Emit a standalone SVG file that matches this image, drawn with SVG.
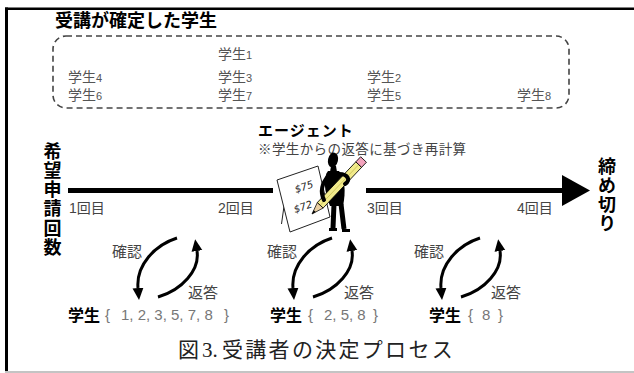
<svg xmlns="http://www.w3.org/2000/svg" width="634" height="373" viewBox="0 0 634 373">
  <style>
    .jp { font-family: "Liberation Sans", "Noto Sans CJK JP", sans-serif; }
    .bold { font-family: "Noto Sans CJK JP", sans-serif; font-weight: 700; fill: #000; }
    .vert { writing-mode: vertical-rl; text-orientation: upright; font-size: 18px; letter-spacing: 1.2px; }
    .stu { font-size: 14px; fill: #555; }
    .sub { font-size: 11px; }
    .round { font-size: 14px; fill: #444; }
    .lbl { font-size: 15px; fill: #444; }
    .num { font-family: "Liberation Sans", sans-serif; font-size: 15px; fill: #777; }
    .caption { font-family: "Liberation Serif", "Noto Sans CJK JP", serif; font-size: 21px; fill: #222; }
    .arc { fill: none; stroke: #000; stroke-width: 3; marker-end: url(#head); }
    .axis { stroke: #000; stroke-width: 5; }
  </style>
  <defs>
    <marker id="head" viewBox="0 0 12 12" refX="0" refY="6" markerWidth="12" markerHeight="12" markerUnits="userSpaceOnUse" orient="auto">
      <path d="M0,0.5 L12,6 L0,11.5 Z" fill="#000"/>
    </marker>
    <g id="loop">
      <path class="arc" d="M177,238 C155,245 136,265 138,288"/>
      <path class="arc" d="M158,297 C182,290 200,270 197,251"/>
    </g>
  </defs>

  <rect width="634" height="373" fill="#fff"/>

  <!-- frame -->
  <g id="frame">
    <line x1="5" y1="8.8" x2="634" y2="8.8" stroke="#000" stroke-width="2.6"/>
    <line x1="6.5" y1="7.5" x2="6.5" y2="373" stroke="#000" stroke-width="3"/>
    <line x1="5" y1="372" x2="634" y2="372" stroke="#c4c4c4" stroke-width="2"/>
  </g>

  <!-- confirmed students -->
  <g id="confirmed">
    <text class="bold" x="55" y="26.5" font-size="18">受講が確定した学生</text>
    <rect x="53" y="36" width="516" height="72" rx="13" fill="none" stroke="#444" stroke-width="1.6" stroke-dasharray="6 4"/>
    <g class="jp stu">
      <text x="218" y="58.5">学生<tspan class="sub">1</tspan></text>
      <text x="68" y="81.5">学生<tspan class="sub">4</tspan></text>
      <text x="218" y="81.5">学生<tspan class="sub">3</tspan></text>
      <text x="367" y="81.5">学生<tspan class="sub">2</tspan></text>
      <text x="68" y="99.5">学生<tspan class="sub">6</tspan></text>
      <text x="218" y="99.5">学生<tspan class="sub">7</tspan></text>
      <text x="367" y="99.5">学生<tspan class="sub">5</tspan></text>
      <text x="517" y="99.5">学生<tspan class="sub">8</tspan></text>
    </g>
  </g>

  <!-- vertical axis labels -->
  <g id="axis-start">
    <text class="bold vert" x="52.5" y="142">希望申請回数</text>
  </g>
  <g id="axis-end">
    <text class="bold vert" x="607" y="157">締め切り</text>
  </g>

  <!-- agent -->
  <g id="agent">
    <text class="bold" x="258" y="136" font-size="15" letter-spacing="1">エージェント</text>
    <text class="jp" x="258" y="153.5" font-size="13.5" letter-spacing="0.4" fill="#444">※学生からの返答に基づき再計算</text>
    <!-- easel and sheet -->
    <line x1="285" y1="199" x2="281.5" y2="224" stroke="#222" stroke-width="1"/>
    <line x1="286.5" y1="203" x2="288.5" y2="224" stroke="#222" stroke-width="1"/>
    <polygon points="277,180 318,166 330,217 290,232" fill="#fff" stroke="#222" stroke-width="1"/>
    <text x="296" y="193" font-family="DejaVu Sans" font-size="10" font-style="italic" fill="#222" transform="rotate(-18 296 193)">$75</text>
    <text x="295" y="213" font-family="DejaVu Sans" font-size="10" font-style="italic" fill="#222" transform="rotate(-18 295 213)">$72</text>
    <!-- figure -->
    <ellipse cx="333" cy="160" rx="5" ry="7.5" fill="#000" transform="rotate(12 333 160)"/>
    <path d="M331,166 L336,166 L337,172 L330,172 Z" fill="#000"/>
    <path d="M328,171 C323,177 324,191 330,206 L343,206 C346,192 345,178 339,171 Z" fill="#000"/>
    <path d="M334,204 L333,228 M341,204 L344,229" stroke="#000" stroke-width="5" fill="none"/>
    <path d="M329,229.5 L337,229.5 M342,230.5 L350,230.5" stroke="#000" stroke-width="3" fill="none"/>
    <!-- pencil -->
    <g transform="translate(312,214) rotate(-46.6)">
      <polygon points="0,0 12,-4 12,4" fill="#e9cfa3" stroke="#000" stroke-width="0.7"/>
      <polygon points="0,0 4,-1.4 4,1.4" fill="#000"/>
      <rect x="12" y="-4" width="56" height="8" fill="#f1ea8a" stroke="#000" stroke-width="0.8"/>
      <line x1="12" y1="0" x2="68" y2="0" stroke="#c9bf55" stroke-width="0.8"/>
      <rect x="68" y="-4" width="7" height="8" fill="#f3a3bd" stroke="#000" stroke-width="0.8"/>
    </g>
    <path d="M329,175 C322,183 320,192 324,200" stroke="#000" stroke-width="4" fill="none" stroke-linecap="round"/>
    <path d="M339,174 C348,174 351,180 345,184" stroke="#000" stroke-width="4" fill="none" stroke-linecap="round"/>
  </g>

  <!-- timeline and exchange arrows -->
  <g id="connectors">
    <line class="axis" x1="68" y1="190.5" x2="273" y2="190.5"/>
    <line class="axis" x1="366" y1="190.5" x2="563" y2="190.5"/>
    <polygon points="562,175 590,190.5 562,206" fill="#000"/>
    <use href="#loop"/>
    <use href="#loop" transform="translate(155,0)"/>
    <use href="#loop" transform="translate(303,0)"/>
  </g>

  <g id="rounds" class="jp round">
    <text x="69" y="212.5">1回目</text>
    <text x="218" y="212.5">2回目</text>
    <text x="367" y="212.5">3回目</text>
    <text x="517" y="212.5">4回目</text>
  </g>

  <g id="exchange-1">
    <text class="jp lbl" x="112" y="257">確認</text>
    <text class="jp lbl" x="188" y="298">返答</text>
    <text class="bold" x="68" y="321" font-size="16">学生</text>
    <text class="num" y="320"><tspan x="105">{</tspan><tspan x="121">1, 2, 3, 5, 7, 8</tspan><tspan x="224">}</tspan></text>
  </g>
  <g id="exchange-2">
    <text class="jp lbl" x="267" y="257">確認</text>
    <text class="jp lbl" x="344" y="298">返答</text>
    <text class="bold" x="270" y="321" font-size="16">学生</text>
    <text class="num" y="320"><tspan x="308">{</tspan><tspan x="324">2, 5, 8</tspan><tspan x="373">}</tspan></text>
  </g>
  <g id="exchange-3">
    <text class="jp lbl" x="414" y="257">確認</text>
    <text class="jp lbl" x="491" y="298">返答</text>
    <text class="bold" x="429" y="321" font-size="16">学生</text>
    <text class="num" y="320"><tspan x="468">{</tspan><tspan x="482">8</tspan><tspan x="498">}</tspan></text>
  </g>

  <g id="caption">
    <text class="caption" x="178" y="357"><tspan>図</tspan><tspan x="202">3.</tspan><tspan x="222" letter-spacing="2.3">受講者の決定プロセス</tspan></text>
  </g>
</svg>
